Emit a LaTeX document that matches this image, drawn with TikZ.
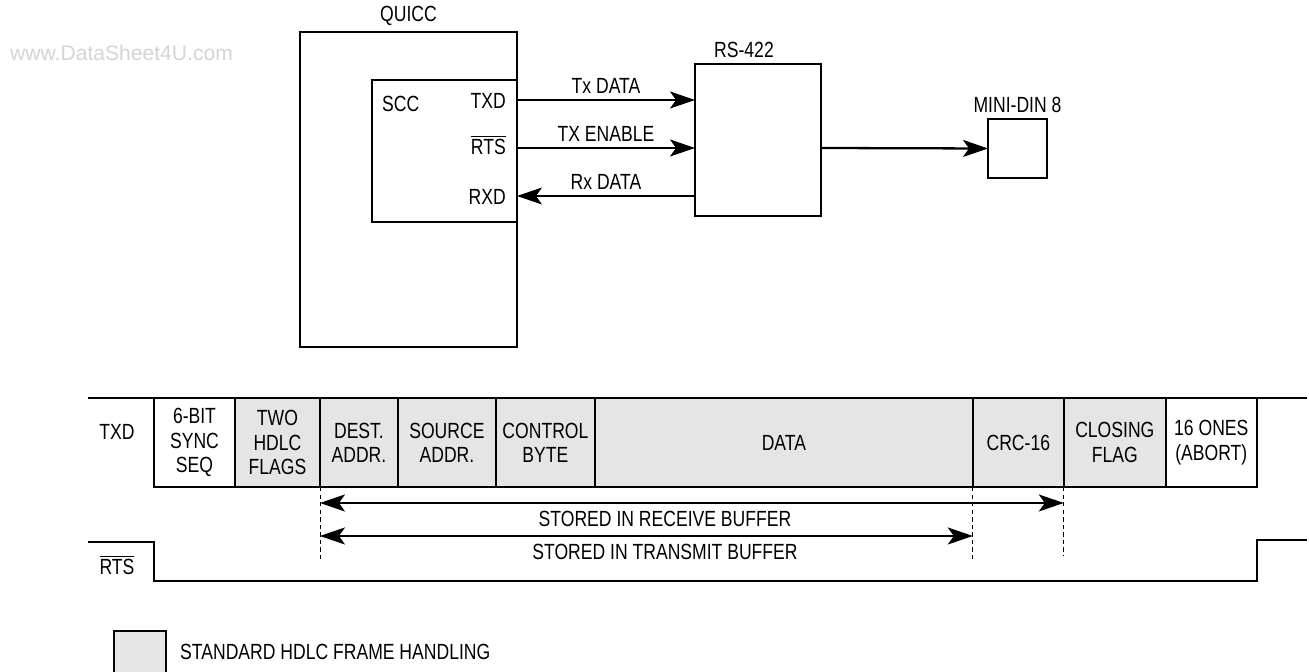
\documentclass[tikz,border=0pt]{standalone}
\usepackage{fontspec}
\setmainfont{Liberation Sans}[FakeStretch=0.8]
\newfontfamily\wmfont{Liberation Sans}
\usetikzlibrary{arrows.meta,positioning,calc}
\definecolor{hdlcgray}{RGB}{229,229,229}
\definecolor{wmgray}{RGB}{212,212,212}
\tikzset{
  blk/.style={draw, line width=1.2pt, inner sep=0pt, outer sep=0pt},
  cell/.style={blk, fill=hdlcgray, minimum height=1.78cm, align=center},
  plaincell/.style={cell, fill=white},
  sig/.style={-{Stealth[length=0.5cm,width=0.34cm,inset=0.12cm]}, line width=0.6pt},
  bus/.style={sig, line width=1.3pt},
  buf/.style={{Stealth[length=0.5cm,width=0.34cm,inset=0.12cm]}-{Stealth[length=0.5cm,width=0.34cm,inset=0.12cm]}, line width=1.2pt},
  guide/.style={dash pattern=on 2.5pt off 1.8pt, line width=0.5pt},
  wave/.style={line width=1.2pt}
}

\begin{document}
\begin{tikzpicture}[x=0.02cm, y=-0.02cm, font=\fontsize{12.5}{13.8}\selectfont]
  \useasboundingbox (0,0) rectangle (1309,672);
  \node[font=\wmfont\fontsize{12}{14}\selectfont, text=wmgray, anchor=west] (wm) at (4,53) {www.DataSheet4U.com};

  % block diagram
  \node[blk, minimum width=4.34cm, minimum height=6.3cm, anchor=north west] (quicc) at (300,32) {};
  \node[above=0pt of quicc] (quiccl) {QUICC};
  \node[blk, minimum width=2.9cm, minimum height=2.84cm, anchor=north east] (scc) at (517,80) {};
  \node[anchor=west] (sccl) at (376,104) {SCC};
  \node[anchor=east] (txd) at (512,101) {TXD};
  \node[anchor=east] (rts) at (512,145) {$\overline{\mbox{RTS}}$};
  \node[anchor=east] (rxd) at (512,197) {RXD};
  \node[blk, minimum width=2.52cm, minimum height=3.04cm, anchor=north west] (rs) at (695,64) {};
  \node[above=0pt of rs, xshift=-0.28cm] (rsl) {RS-422};
  \node[blk, minimum width=1.18cm, minimum height=1.18cm, anchor=north west] (mini) at (988,119) {};
  \node[above=0pt of mini] (minil) {MINI-DIN 8};
  \draw[sig] ($(scc.north east)+(0,20)$) -- node[above] {Tx DATA} ($(rs.north west)+(0,36)$);
  \draw[sig] ($(scc.north east)+(0,68)$) -- node[above] {TX ENABLE} ($(rs.north west)+(0,84)$);
  \draw[sig] ($(rs.north west)+(0,132)$) -- node[above] {Rx DATA} ($(scc.north east)+(0,116)$);
  \draw[bus] ($(rs.north east)+(0,84)$) -- (mini.west);

  % frame
  \node[plaincell, minimum width=1.62cm, anchor=north west] (sync) at (154,398) {6-BIT\\SYNC\\SEQ};
  \node[cell, minimum width=1.70cm, right=0pt of sync] (flags) {TWO\\HDLC\\FLAGS};
  \node[cell, minimum width=1.56cm, right=0pt of flags] (dest) {DEST.\\ADDR.};
  \node[cell, minimum width=1.96cm, right=0pt of dest] (src) {SOURCE\\ADDR.};
  \node[cell, minimum width=1.98cm, right=0pt of src] (ctrl) {CONTROL\\BYTE};
  \node[cell, minimum width=7.56cm, right=0pt of ctrl] (data) {DATA};
  \node[cell, minimum width=1.82cm, right=0pt of data] (crc) {CRC-16};
  \node[cell, minimum width=2.04cm, right=0pt of crc] (close) {CLOSING\\FLAG};
  \node[plaincell, minimum width=1.82cm, right=0pt of close] (abort) {16 ONES\\(ABORT)};
  \node (txdl) at (117,432) {TXD};
  \coordinate (txa) at (88,398);
  \coordinate (txb) at (1307,398);
  \draw[wave] (txa) -- (sync.north west);
  \draw[wave] (abort.north east) -- (txb);

  \draw[guide] (dest.south west) -- ($(dest.south west)+(0,73)$);
  \draw[guide] (crc.south west) -- ($(crc.south west)+(0,75)$);
  \draw[guide] (close.south west) -- ($(close.south west)+(0,69)$);
  \coordinate (rxa) at ($(dest.south west)+(0,16)$);
  \coordinate (rxb) at ($(close.south west)+(0,16)$);
  \coordinate (tba) at ($(dest.south west)+(0,49)$);
  \coordinate (tbb) at ($(crc.south west)+(0,49)$);
  \draw[buf] (rxa) -- (rxb);
  \draw[buf] (tba) -- (tbb);
  \node (rxl) at (665,519) {STORED IN RECEIVE BUFFER};
  \node (tbl) at (665,552) {STORED IN TRANSMIT BUFFER};

  \node (rtsl) at (117,565) {$\overline{\mbox{RTS}}$};
  \draw[wave] (88,542) -- (154,542) -- (154,581) -- (1257,581) -- (1257,540) -- (1307,540);

  % key
  \node[blk, fill=hdlcgray, minimum width=1.04cm, minimum height=1.04cm, anchor=north west] (key) at (114,631) {};
  \node[anchor=west] (keyl) at (174,652) {STANDARD HDLC FRAME HANDLING};
\end{tikzpicture}
\end{document}
